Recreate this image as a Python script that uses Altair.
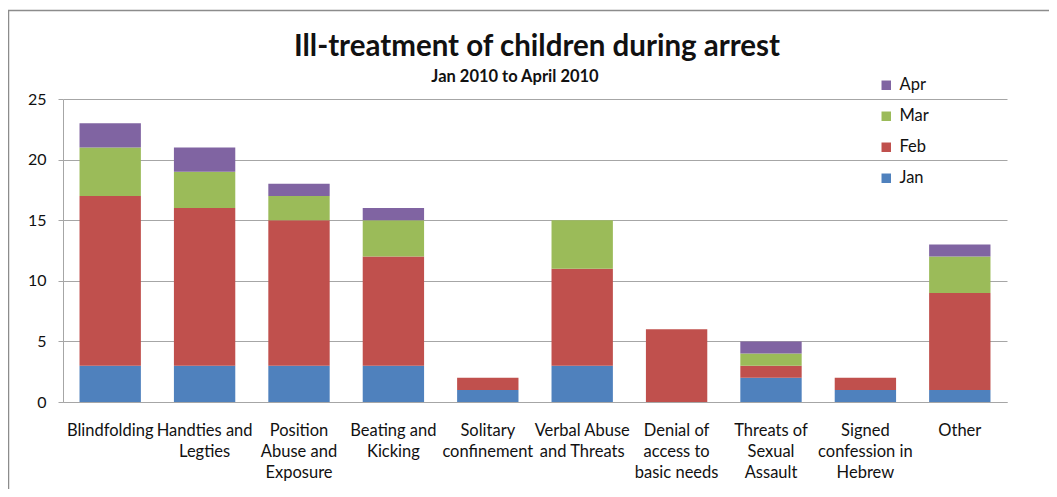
import altair as alt
import pandas as pd

categories = [
    "Blindfolding",
    "Handties and\nLegties",
    "Position\nAbuse and\nExposure",
    "Beating and\nKicking",
    "Solitary\nconfinement",
    "Verbal Abuse\nand Threats",
    "Denial of\naccess to\nbasic needs",
    "Threats of\nSexual\nAssault",
    "Signed\nconfession in\nHebrew",
    "Other",
]
months = ["Jan", "Feb", "Mar", "Apr"]
jan = [3, 3, 3, 3, 1, 3, 0, 2, 1, 1]
feb = [14, 13, 12, 9, 1, 8, 6, 1, 1, 8]
mar = [4, 3, 2, 3, 0, 4, 0, 1, 0, 3]
apr = [2, 2, 1, 1, 0, 0, 0, 1, 0, 1]
colors = ["#4F81BD", "#C0504D", "#9BBB59", "#8064A2"]
y_ticks = [0, 5, 10, 15, 20, 25]
title_text = "Ill-treatment of children during arrest"
subtitle_text = "Jan 2010 to April 2010"

rows = []
for mi, (m, vals) in enumerate(zip(months, [jan, feb, mar, apr])):
    for c, v in zip(categories, vals):
        rows.append({"cat": c, "month": m, "mi": mi, "value": v})
df = pd.DataFrame(rows)

FONT = "Lato"

bars = alt.Chart(df).mark_bar(stroke=None).encode(
    x=alt.X("cat:N", sort=categories, title=None,
            scale=alt.Scale(paddingInner=0.35, paddingOuter=0.175),
            axis=alt.Axis(labelAngle=0, labelExpr="split(datum.value, '\\n')",
                          labelFont=FONT, labelFontSize=16.5, labelColor="#111",
                          labelLineHeight=21, labelPadding=20, ticks=False,
                          domainColor="#a6a6a6", labelBaseline="top")),
    y=alt.Y("value:Q", stack="zero", title=None,
            scale=alt.Scale(domain=[0, 25], nice=False),
            axis=alt.Axis(values=y_ticks, labelFont=FONT, labelFontSize=16,
                          labelColor="#111", labelPadding=12, tickSize=5,
                          tickColor="#a6a6a6", domainColor="#a6a6a6",
                          gridColor="#a6a6a6", gridWidth=1)),
    color=alt.Color("month:N",
                    scale=alt.Scale(domain=months[::-1], range=colors[::-1]),
                    legend=alt.Legend(title=None, orient="none", legendX=815, legendY=-22,
                                      symbolType="square", symbolSize=90,
                                      symbolStrokeWidth=0,
                                      labelFont=FONT, labelFontSize=16.5,
                                      labelColor="#111", rowPadding=14,
                                      labelOffset=5)),
    order=alt.Order("mi:Q", sort="ascending"),
)

one = pd.DataFrame({"a": [0]})

border = alt.Chart(one).mark_rect(
    fill=None, stroke="#8c8c8c", strokeWidth=1.5
).encode(x=alt.value(-54.5), x2=alt.value(1100), y=alt.value(-88.5), y2=alt.value(600))

title = alt.Chart(one).mark_text(
    text=title_text, font=FONT, fontSize=29.5, fontWeight="bold", color="#111",
    align="center", baseline="alphabetic"
).encode(x=alt.value(474), y=alt.value(-43))

subtitle = alt.Chart(one).mark_text(
    text=subtitle_text, font=FONT, fontSize=16.5, fontWeight="bold", color="#111",
    align="center", baseline="alphabetic"
).encode(x=alt.value(452), y=alt.value(-17))

chart = alt.layer(border, bars, title, subtitle).properties(
    width=944, height=303,
    autosize=alt.AutoSizeParams(type="none"),
    padding={"left": 55, "top": 91, "right": 42, "bottom": 87},
).configure_view(stroke=None).configure_axis(grid=True).configure_axisX(grid=False)

chart.save("out.html", embed_options={"renderer": "svg", "actions": False})
